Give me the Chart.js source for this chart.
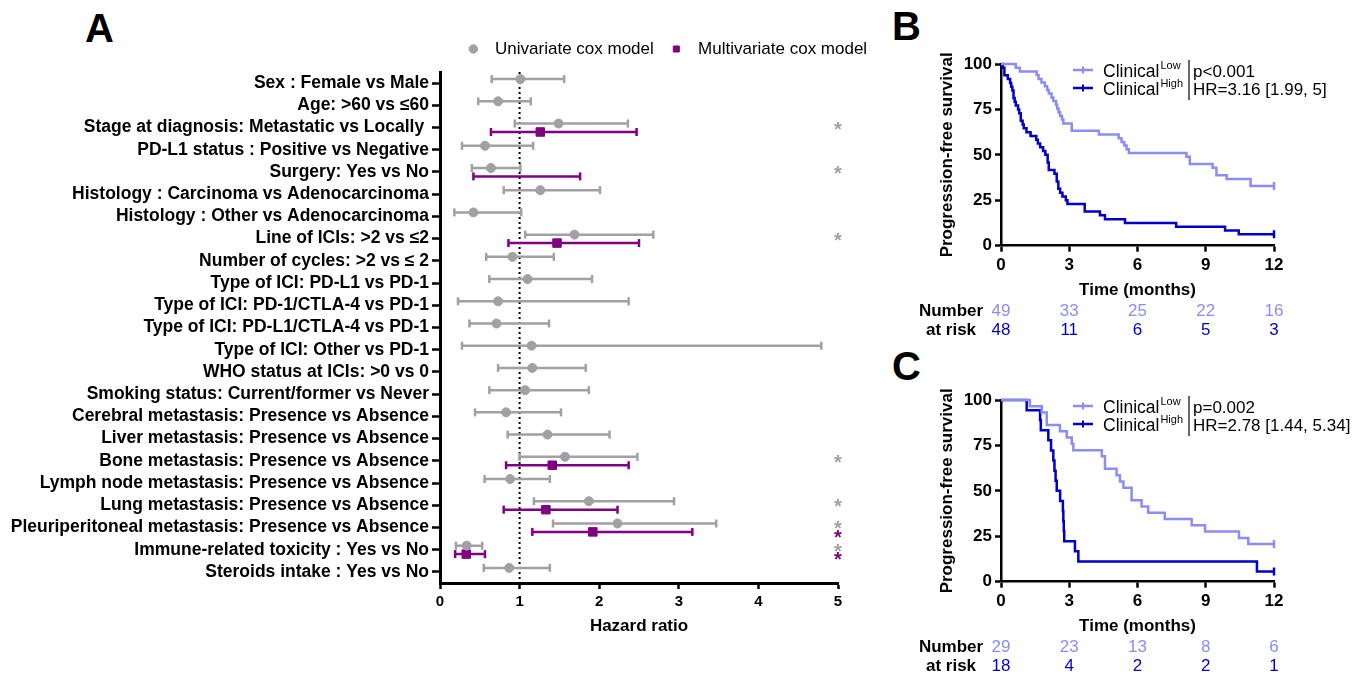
<!DOCTYPE html>
<html><head><meta charset="utf-8">
<script src="https://cdn.jsdelivr.net/npm/chart.js@4.4.1/dist/chart.umd.min.js"></script>
<style>
body{margin:0;background:#fff;width:1371px;height:678px;position:relative;overflow:hidden;font-family:'Liberation Sans',Arial,sans-serif}
canvas{position:absolute}
.lett{position:absolute;font-weight:bold;font-size:40px;line-height:1;color:#000}
</style></head><body>
<div class="lett" style="left:85px;top:8px">A</div>
<div class="lett" style="left:892px;top:6px">B</div>
<div class="lett" style="left:892px;top:346px">C</div>
<canvas id="forest" width="890" height="645" style="left:0;top:0;width:890px;height:645px"></canvas>
<canvas id="kmB" width="470" height="300" style="left:900px;top:40px;width:470px;height:300px"></canvas>
<canvas id="kmC" width="470" height="302" style="left:900px;top:376px;width:470px;height:302px"></canvas>
<script>
// ---------- DATA: panel A (forest plot) ----------
const LABELS = [
  "Sex : Female vs Male",
  "Age: >60 vs \u226460",
  "Stage at diagnosis: Metastatic vs Locally ",
  "PD-L1 status : Positive vs Negative",
  "Surgery: Yes vs No",
  "Histology : Carcinoma vs Adenocarcinoma",
  "Histology : Other vs Adenocarcinoma",
  "Line of ICIs: >2 vs \u22642",
  "Number of cycles: >2 vs \u2264 2",
  "Type of ICI: PD-L1 vs PD-1",
  "Type of ICI: PD-1/CTLA-4 vs PD-1",
  "Type of ICI: PD-L1/CTLA-4 vs PD-1",
  "Type of ICI: Other vs PD-1",
  "WHO status at ICIs: >0 vs 0",
  "Smoking status: Current/former vs Never",
  "Cerebral metastasis: Presence vs Absence",
  "Liver metastasis: Presence vs Absence",
  "Bone metastasis: Presence vs Absence",
  "Lymph node metastasis: Presence vs Absence",
  "Lung metastasis: Presence vs Absence",
  "Pleuriperitoneal metastasis: Presence vs Absence",
  "Immune-related toxicity : Yes vs No",
  "Steroids intake : Yes vs No"
];
const UNI_HR = [1.01,0.73,1.49,0.565,0.64,1.26,0.42,1.69,0.91,1.10,0.73,0.71,1.15,1.16,1.07,0.83,1.35,1.57,0.88,1.87,2.23,0.335,0.87];
const UNI_LO = [0.65,0.48,0.94,0.276,0.40,0.80,0.18,1.07,0.58,0.62,0.226,0.37,0.276,0.73,0.62,0.44,0.85,1.00,0.56,1.18,1.42,0.20,0.55];
const UNI_HI = [1.56,1.14,2.36,1.17,1.01,2.01,1.02,2.68,1.43,1.91,2.37,1.37,4.79,1.83,1.87,1.52,2.13,2.48,1.38,2.94,3.47,0.53,1.38];
const MULTI_HR = [null,null,1.26,null,null,null,null,1.47,null,null,null,null,null,null,null,null,null,1.41,null,1.33,1.92,0.33,null];
const MULTI_LO = [null,null,0.64,null,0.42,null,null,0.86,null,null,null,null,null,null,null,null,null,0.83,null,0.80,1.16,0.19,null];
const MULTI_HI = [null,null,2.47,null,1.76,null,null,2.50,null,null,null,null,null,null,null,null,null,2.37,null,2.23,3.17,0.565,null];
const UNI_SIG = [2,4,7,17,19,20,21];
const MULTI_SIG = [20,21];
const HR_TICKS = [0,1,2,3,4,5];
const REF_HR = 1;
const SIG_HR = 5;

// ---------- DATA: panels B and C (Kaplan-Meier) ----------
const TIME_TICKS = [0,3,6,9,12];
const PFS_TICKS = [0,25,50,75,100];
const GROUP_NAME = "Clinical";
const GROUPS = ["Low","High"];

const B_LOW_T  = [0,0.65,0.83,1.57,1.65,1.78,1.93,2.03,2.1,2.22,2.3,2.42,2.47,2.53,2.6,2.68,2.74,3.11,4.3,5.17,5.3,5.42,5.52,5.62,8.15,8.3,9.3,9.47,9.92,10.97,12];
const B_LOW_S  = [100,98,95.9,93.9,91.8,89.8,87.8,85.7,83.7,81.6,79.6,77.6,75.5,73.5,71.4,69.4,67.3,63.3,61.2,59.2,57.1,55.1,53.1,51,49,44.9,42.9,38.8,36.7,32.9,32.9];
const B_HIGH_T = [0,0.08,0.15,0.3,0.4,0.45,0.5,0.55,0.6,0.65,0.75,0.8,0.87,0.95,1.0,1.12,1.3,1.55,1.62,1.72,1.85,1.95,2.05,2.1,2.35,2.45,2.52,2.6,2.7,2.85,2.92,3.68,4.35,4.57,5.45,7.7,9.85,10.45,12];
const B_HIGH_S = [100,97.9,93.8,91.7,89.6,87.5,85.4,81.3,79.2,77.1,75,72.9,68.8,66.7,64.6,62.5,60.4,58.3,56.3,54.2,52.1,50,45.8,41.7,39.6,35.4,31.3,29.2,27.1,25,22.9,18.8,16.7,14.6,12.5,10.4,8.3,6.3,6.3];
const B_STATS = ["p<0.001","HR=3.16 [1.99, 5]"];
const B_RISK_LOW  = [49,33,25,22,16];
const B_RISK_HIGH = [48,11,6,5,3];

const C_LOW_T  = [0,1.27,1.79,2.01,2.59,2.89,3.11,3.18,4.43,4.57,5.08,5.23,5.38,5.74,6.18,6.47,7.2,8.38,8.97,10.46,10.87,12];
const C_LOW_S  = [100,96.6,93.1,86.2,82.8,79.3,75.9,72.4,69,62.1,58.6,55.2,51.7,44.8,41.4,37.9,34.5,31,27.6,24.1,20.7,20.7];
const C_HIGH_T = [0,1.13,1.72,1.75,2.08,2.2,2.3,2.35,2.4,2.45,2.6,2.72,2.74,2.76,2.78,3.25,3.4,11.25,12];
const C_HIGH_S = [100,94.4,88.9,83.3,77.8,72.2,66.7,61.1,55.6,50,44.4,38.9,33.3,27.8,22.2,16.7,11.1,5.6,5.6];
const C_STATS = ["p=0.002","HR=2.78 [1.44, 5.34]"];
const C_RISK_LOW  = [29,23,13,8,6];
const C_RISK_HIGH = [18,4,2,2,1];

// ---------- STYLE ----------
const FONT = "'Liberation Sans', Arial, sans-serif";
const GREY = '#a0a0a5', PURPLE = '#800080';
const LOWC = '#8c8cf5', HIGHC = '#0000c8';
const UNI_OFF = -0.18, MULTI_OFF = 0.2;

function ptData(hr, off){ const o=[]; hr.forEach((v,i)=>{ if(v!=null) o.push({x:v,y:i+off}); }); return o; }
function barData(lo, hi, off){ const o=[]; lo.forEach((l,i)=>{ if(l==null) return; o.push({x:l,y:i+off},{x:hi[i],y:i+off},{x:null,y:null}); }); return o; }

const placeLegend = {
  id:'placeLegend',
  afterLayout(chart){
    const lg = chart.legend; if(!lg) return;
    const w = lg.right - lg.left, h = lg.bottom - lg.top;
    const l = 666 - w/2;
    lg.left = l; lg.right = l + w; lg.top = 26.5; lg.bottom = 26.5 + h;
  }
};
const stars = {
  id:'stars',
  afterDatasetsDraw(chart){
    const {ctx, scales:{x, y}} = chart;
    ctx.save();
    ctx.font = 'bold 20px ' + FONT; ctx.textAlign = 'center'; ctx.textBaseline = 'alphabetic';
    ctx.fillStyle = GREY;
    UNI_SIG.forEach(i => ctx.fillText('*', x.getPixelForValue(SIG_HR), y.getPixelForValue(i + UNI_OFF) + 12));
    ctx.fillStyle = PURPLE;
    MULTI_SIG.forEach(i => ctx.fillText('*', x.getPixelForValue(SIG_HR), y.getPixelForValue(i + MULTI_OFF) + 12));
    ctx.restore();
  }
};

new Chart(document.getElementById('forest'), {
  type:'scatter',
  data:{datasets:[
    {label:' Univariate cox model', data:ptData(UNI_HR, UNI_OFF), pointStyle:'circle', pointRadius:4.5, backgroundColor:GREY, borderColor:GREY, borderWidth:1, order:0},
    {label:' Multivariate cox model', data:ptData(MULTI_HR, MULTI_OFF), pointStyle:'rect', pointRadius:6, backgroundColor:PURPLE, borderColor:PURPLE, borderWidth:1, order:0},
    {label:'uniCI', data:barData(UNI_LO, UNI_HI, UNI_OFF), showLine:true, spanGaps:false, borderColor:GREY, borderWidth:2.5,
     pointStyle:'line', pointRotation:90, pointRadius:4, pointBorderWidth:2.5, pointBorderColor:GREY, pointBackgroundColor:GREY, order:1},
    {label:'multiCI', data:barData(MULTI_LO, MULTI_HI, MULTI_OFF), showLine:true, spanGaps:false, borderColor:PURPLE, borderWidth:2.5,
     pointStyle:'line', pointRotation:90, pointRadius:4, pointBorderWidth:2.5, pointBorderColor:PURPLE, pointBackgroundColor:PURPLE, order:1},
    {label:'ref', data:[{x:REF_HR,y:-0.5},{x:REF_HR,y:LABELS.length-0.5}], showLine:true, borderColor:'#000', borderWidth:2, borderDash:[2,3], pointRadius:0, order:2}
  ]},
  options:{
    responsive:false, animation:false, devicePixelRatio:1,
    layout:{padding:{left:0,right:52,top:31,bottom:0}},
    plugins:{
      legend:{display:true, position:'top',
        labels:{usePointStyle:true, boxHeight:6, padding:14, color:'#000', font:{family:FONT, size:17},
          filter:(item)=>item.datasetIndex < 2}},
      tooltip:{enabled:false}
    },
    scales:{
      x:{type:'linear', min:0, max:5,
        afterBuildTicks:s=>{ s.ticks = HR_TICKS.map(v=>({value:v})); },
        afterFit:s=>{ s.height = 62; },
        grid:{display:true, drawOnChartArea:false, drawTicks:true, tickLength:6, tickWidth:2.5, tickColor:'#000'},
        border:{display:true, color:'#000', width:3},
        ticks:{color:'#000', font:{family:FONT, size:15, weight:'bold'}, padding:4},
        title:{display:true, text:'Hazard ratio', color:'#000', font:{family:FONT, size:17, weight:'bold'}, padding:{top:8,bottom:8}}
      },
      y:{type:'linear', reverse:true, min:-0.5, max:LABELS.length-0.5,
        afterBuildTicks:s=>{ s.ticks = LABELS.map((_,i)=>({value:i})); },
        afterFit:s=>{ s.width = 440; },
        grid:{display:true, drawOnChartArea:false, drawTicks:true, tickLength:8, tickWidth:2.5, tickColor:'#000'},
        border:{display:true, color:'#000', width:3},
        ticks:{autoSkip:false, color:'#000', font:{family:FONT, size:17.5, weight:'bold'}, padding:3, callback:(v)=>LABELS[v]}
      }
    }
  },
  plugins:[placeLegend, stars]
});

// ---------- KM charts ----------
function kmChart(id, lowT, lowS, highT, highS, stats, riskLow, riskHigh, padBottom){
  const mk = (t, s) => t.map((v,i)=>({x:v, y:s[i]}));
  const endOnly = (n) => (c) => c.dataIndex === n-1 ? 4 : 0;
  const kmLegend = {
    id:'kmLegend',
    afterDraw(chart){
      const {ctx, chartArea:a, scales:{x}} = chart;
      ctx.save();
      const items = [{c:LOWC, sup:GROUPS[0], y:a.top+6, s:stats[0]}, {c:HIGHC, sup:GROUPS[1], y:a.top+24, s:stats[1]}];
      items.forEach(it=>{
        ctx.strokeStyle = it.c; ctx.lineWidth = 2.5;
        ctx.beginPath(); ctx.moveTo(a.left+72, it.y); ctx.lineTo(a.left+92, it.y); ctx.stroke();
        ctx.lineWidth = 2; ctx.beginPath(); ctx.moveTo(a.left+82, it.y-3.5); ctx.lineTo(a.left+82, it.y+3.5); ctx.stroke();
        ctx.fillStyle = '#000'; ctx.textAlign = 'left'; ctx.textBaseline = 'middle';
        ctx.font = '17.5px ' + FONT;
        ctx.fillText(GROUP_NAME, a.left+102, it.y+2.5);
        const w = ctx.measureText(GROUP_NAME).width;
        ctx.font = '11px ' + FONT;
        ctx.fillText(it.sup, a.left+102+w+1, it.y-4);
        ctx.font = '17px ' + FONT;
        ctx.fillText(it.s, a.left+192, it.y+2);
      });
      ctx.strokeStyle = '#000'; ctx.lineWidth = 1.2;
      ctx.beginPath(); ctx.moveTo(a.left+188, a.top-4); ctx.lineTo(a.left+188, a.top+36); ctx.stroke();
      // number at risk
      ctx.textBaseline = 'middle';
      ctx.font = 'bold 17px ' + FONT; ctx.textAlign = 'center'; ctx.fillStyle = '#000';
      ctx.fillText('Number', a.left-50, a.bottom+66);
      ctx.fillText('at risk', a.left-50, a.bottom+85);
      ctx.font = '17px ' + FONT;
      TIME_TICKS.forEach((t,k)=>{
        ctx.fillStyle = LOWC; ctx.fillText(String(riskLow[k]), x.getPixelForValue(t), a.bottom+66);
        ctx.fillStyle = HIGHC; ctx.fillText(String(riskHigh[k]), x.getPixelForValue(t), a.bottom+85);
      });
      ctx.restore();
    }
  };
  return new Chart(document.getElementById(id), {
    type:'line',
    data:{datasets:[
      {label:GROUP_NAME+' '+GROUPS[0], data:mk(lowT, lowS), stepped:true, borderColor:LOWC, borderWidth:2.5, fill:false,
       pointStyle:'line', pointRotation:90, pointRadius:endOnly(lowT.length), pointBorderColor:LOWC, pointBorderWidth:2.5, clip:false},
      {label:GROUP_NAME+' '+GROUPS[1], data:mk(highT, highS), stepped:true, borderColor:HIGHC, borderWidth:2.5, fill:false,
       pointStyle:'line', pointRotation:90, pointRadius:endOnly(highT.length), pointBorderColor:HIGHC, pointBorderWidth:2.5, clip:false}
    ]},
    options:{
      responsive:false, animation:false, devicePixelRatio:1,
      layout:{padding:{left:30, right:96, top:24, bottom:padBottom}},
      plugins:{legend:{display:false}, tooltip:{enabled:false}},
      scales:{
        x:{type:'linear', min:0, max:12,
          afterBuildTicks:s=>{ s.ticks = TIME_TICKS.map(v=>({value:v})); },
          afterFit:s=>{ s.height = 58; },
          grid:{display:true, drawOnChartArea:false, drawTicks:true, tickLength:6, tickWidth:2.5, tickColor:'#000'},
          border:{display:true, color:'#000', width:2.5},
          ticks:{color:'#000', font:{family:FONT, size:17, weight:'bold'}, padding:3},
          title:{display:true, text:'Time (months)', color:'#000', font:{family:FONT, size:17, weight:'bold'}, padding:{top:3,bottom:3}}
        },
        y:{type:'linear', min:0, max:100,
          afterBuildTicks:s=>{ s.ticks = PFS_TICKS.map(v=>({value:v})); },
          afterFit:s=>{ s.width = 71; },
          grid:{display:true, drawOnChartArea:false, drawTicks:true, tickLength:6, tickWidth:2.5, tickColor:'#000'},
          border:{display:true, color:'#000', width:2.5},
          ticks:{color:'#000', font:{family:FONT, size:17, weight:'bold'}, padding:3},
          title:{display:true, text:'Progression-free survival', color:'#000', font:{family:FONT, size:17, weight:'bold'}, padding:{top:7,bottom:7}}
        }
      }
    },
    plugins:[kmLegend]
  });
}
kmChart('kmB', B_LOW_T, B_LOW_S, B_HIGH_T, B_HIGH_S, B_STATS, B_RISK_LOW, B_RISK_HIGH, 36.3);
kmChart('kmC', C_LOW_T, C_LOW_S, C_HIGH_T, C_HIGH_S, C_STATS, C_RISK_LOW, C_RISK_HIGH, 38.3);
</script>
</body></html>
